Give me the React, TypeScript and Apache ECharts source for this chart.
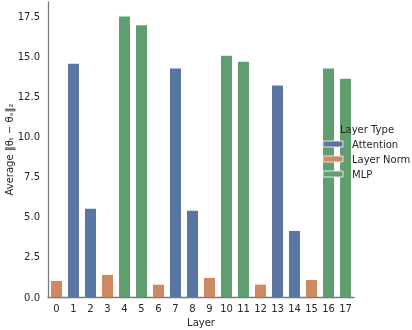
import React, { useEffect, useRef } from "react";
import * as echarts from "echarts";

const layers = ["0","1","2","3","4","5","6","7","8","9","10","11","12","13","14","15","16","17"];
const layerTypes = ["Attention", "Layer Norm", "MLP"];
const typeOfLayer = ["Layer Norm","Attention","Attention","Layer Norm","MLP","MLP","Layer Norm","Attention","Attention","Layer Norm","MLP","MLP","Layer Norm","Attention","Attention","Layer Norm","MLP","MLP"];
const values = [1.0, 14.55, 5.5, 1.38, 17.5, 16.95, 0.77, 14.25, 5.38, 1.19, 15.05, 14.68, 0.77, 13.19, 4.12, 1.06, 14.25, 13.62];
const colors = ["#5975a4", "#cc8963", "#5f9e6e"];
const yTicks = [0, 2.5, 5, 7.5, 10, 12.5, 15, 17.5];
const legendTitle = "Layer Type";

export default function App() {
  const ref = useRef<HTMLDivElement>(null);
  useEffect(() => {
    if (!ref.current) return;
    const chart = echarts.init(ref.current, undefined, { renderer: "svg" });
    const font = "DejaVu Sans";
    const txt = "#262626";
    const spine = { show: true, lineStyle: { color: "#7a7a7a", width: 1.3 } };
    const series = layerTypes.map((t, k) => ({
      name: t,
      type: "bar",
      stack: "all",
      barWidth: 11,
      itemStyle: { color: colors[k] },
      data: values.map((v, i) => (typeOfLayer[i] === t ? v : null)),
    }));
    const legendEls: any[] = [];
    layerTypes.forEach((t, k) => {
      const cy = 144 + k * 15;
      legendEls.push({
        type: "rect",
        z: 100,
        shape: { x: 323, y: cy - 3, width: 20, height: 6 },
        style: { fill: colors[k], stroke: "#e6e6e6", lineWidth: 1 },
      });
      legendEls.push({
        type: "text",
        z: 100,
        x: 352,
        y: cy,
        style: { text: t, fill: txt, font: `10px "${font}"`, verticalAlign: "middle", align: "left" },
      });
    });
    chart.setOption({
      animation: false,
      textStyle: { fontFamily: font },
      grid: { left: 48, right: 58, top: 2, bottom: 33, containLabel: false, outerBoundsMode: "none" },
      xAxis: {
        type: "category",
        data: layers,
        axisLine: spine,
        axisTick: { show: false },
        axisLabel: { color: txt, fontSize: 10, margin: 6, interval: 0, fontFamily: font },
        name: "Layer",
        nameLocation: "middle",
        nameGap: 20,
        nameMoveOverlap: false,
        nameTextStyle: { color: txt, fontSize: 10, fontFamily: font },
      },
      yAxis: {
        type: "value",
        min: 0,
        max: 18.4,
        interval: 2.5,
        splitLine: { show: false },
        axisLine: spine,
        axisTick: { show: false },
        axisLabel: {
          color: txt,
          fontSize: 10,
          margin: 8,
          fontFamily: font,
          formatter: (v: number) => (yTicks.includes(v) ? v.toFixed(1) : ""),
        },
        name: "Average \u2016\u03b8\u209c \u2212 \u03b8\u209b\u2016\u2082",
        nameLocation: "middle",
        nameGap: 34,
        nameMoveOverlap: false,
        nameTextStyle: { color: txt, fontSize: 10, fontFamily: font },
      },
      graphic: [
        {
          type: "text",
          x: 340,
          y: 129,
          z: 100,
          style: { text: legendTitle, fill: txt, font: `10px "${font}"`, verticalAlign: "middle" },
        },
        ...legendEls,
      ],
      series,
    });
    return () => chart.dispose();
  }, []);
  return <div ref={ref} style={{ position: "fixed", left: 0, top: 0, width: 412, height: 330 }} />;
}
